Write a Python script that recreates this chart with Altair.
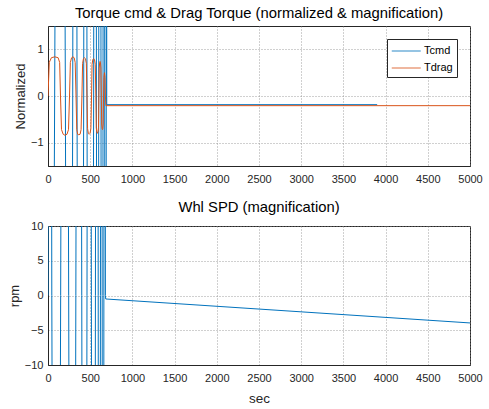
import altair as alt
import pandas as pd

# ---- data ----
tcmd_t = [0, 79, 142, 206, 250, 293, 318, 344, 383, 423, 442, 462, 500, 541, 557, 574, 587,
          601, 614, 628, 640, 652, 662, 672, 681, 690, 693, 696, 3900]
tcmd_v = [-30, 0, 30, 0, -30, 0, 30, 0, -30, 0, 30, 0, -30, 0, 30, 0, -30,
          0, 30, 0, -30, 0, 30, 0, -30, 0, 30, -0.186, -0.186]

tdrag_t = [0, 15, 40, 80, 120, 138,
           148, 160, 180, 200, 225, 243,
           255, 265, 280, 295, 310, 322,
           332, 341, 352, 365, 380, 392,
           402, 410, 420, 432, 444, 454,
           462, 469, 478, 488, 498, 508,
           516, 522, 531, 541, 551, 560,
           567, 572, 578, 585, 592, 598,
           603, 607, 612, 617, 622, 627,
           632, 636, 641, 645, 649, 654,
           658, 662, 669, 676, 680, 686, 5000]
tdrag_v = [0, 0.72, 0.82, 0.84, 0.82, 0.72,
           0, -0.72, -0.82, -0.84, -0.82, -0.72,
           0, 0.72, 0.82, 0.84, 0.82, 0.72,
           0, -0.72, -0.82, -0.83, -0.82, -0.72,
           0, 0.7, 0.8, 0.82, 0.8, 0.7,
           0, -0.7, -0.8, -0.82, -0.8, -0.7,
           0, 0.68, 0.78, 0.8, 0.78, 0.68,
           0, -0.68, -0.77, -0.8, -0.77, -0.68,
           0, 0.6, 0.71, 0.74, 0.71, 0.6,
           0, -0.6, -0.7, -0.72, -0.7, -0.6,
           0, 0.4, 0.5, 0.4, 0, -0.207, -0.207]

whl_t = [0, 22, 45, 98, 150, 198, 245, 288, 330, 365, 400, 431, 462, 488, 514, 538, 562,
         578, 595, 608, 621, 631, 642, 652, 662, 671, 680, 684, 5000]
whl_v = [0, 200, 0, -200, 0, 200, 0, -200, 0, 200, 0, -200, 0, 200, 0, -200, 0,
         200, 0, -200, 0, 200, 0, -200, 0, 200, 0, -0.5, -3.95]

x_ticks = list(range(0, 5001, 500))
top_y_ticks = [-1, 0, 1]
bot_y_ticks = [-10, -5, 0, 5, 10]

BLUE = "#0072BD"
ORANGE = "#D95319"
FONT = "Liberation Sans"
TXT = "#262626"

df_cmd = pd.DataFrame({"t": tcmd_t, "v": tcmd_v, "series": "Tcmd", "i": range(len(tcmd_t))})
df_drag = pd.DataFrame({"t": tdrag_t, "v": tdrag_v, "series": "Tdrag", "i": range(len(tdrag_t))})
df_top = pd.concat([df_cmd, df_drag], ignore_index=True)
df_whl = pd.DataFrame({"t": whl_t, "v": whl_v, "i": range(len(whl_t))})

W, H = 422, 140

xaxis = alt.Axis(values=x_ticks, title=None, labelFontSize=11, labelPadding=7, ticks=False,
                 labelFlush=False, format="d")
xaxis_b = alt.Axis(values=x_ticks, title="sec", labelFontSize=11, labelPadding=7, ticks=False,
                   titleFontSize=13.5, titlePadding=8, labelFlush=False, format="d")
xscale = alt.Scale(domain=[0, 5000], nice=False, zero=False)

color = alt.Color("series:N",
                  scale=alt.Scale(domain=["Tcmd", "Tdrag"], range=[BLUE, ORANGE]),
                  legend=alt.Legend(title=None, orient="none", legendX=339, legendY=13,
                                    fillColor="white", strokeColor=TXT, padding=4,
                                    labelFontSize=11, labelFont=FONT, labelColor="#000",
                                    symbolType="M-1,0H3", symbolStrokeWidth=1.5,
                                    symbolSize=210, rowPadding=4, labelOffset=17,
                                    symbolOpacity=0.55))

top = alt.Chart(df_top).mark_line(clip=True, strokeWidth=1).encode(
    x=alt.X("t:Q", scale=xscale, axis=xaxis),
    y=alt.Y("v:Q", scale=alt.Scale(domain=[-1.5, 1.5], nice=False),
            axis=alt.Axis(values=top_y_ticks, title="Normalized", titleFontSize=13,
                          labelFontSize=11, ticks=False, titlePadding=3, labelPadding=5,
                          format="d")),
    color=color,
    order="i:Q",
).properties(
    width=W, height=H,
    title=alt.TitleParams("Torque cmd & Drag Torque (normalized & magnification)",
                          fontSize=14.8, font=FONT, fontWeight="normal", offset=5, color="#000"),
)

bottom = alt.Chart(df_whl).mark_line(clip=True, strokeWidth=1, color=BLUE).encode(
    x=alt.X("t:Q", scale=xscale, axis=xaxis_b),
    y=alt.Y("v:Q", scale=alt.Scale(domain=[-10, 10], nice=False),
            axis=alt.Axis(values=bot_y_ticks, title="rpm", titleFontSize=13,
                          labelFontSize=11, ticks=False, titlePadding=3, labelPadding=5,
                          format="d")),
    order="i:Q",
).properties(
    width=W, height=H - 1,
    title=alt.TitleParams("Whl SPD (magnification)", fontSize=14.8, font=FONT,
                          fontWeight="normal", offset=5, color="#000"),
)

chart = alt.vconcat(top, bottom, spacing=60, bounds="flush").properties(
    padding={"left": 7, "top": 5, "right": 4, "bottom": 1},
    background="white",
).configure_axis(
    labelFont=FONT, titleFont=FONT, labelColor=TXT, titleColor=TXT,
    domainColor=TXT, grid=True, gridColor="#8a8a8a", gridDash=[1, 2],
    gridOpacity=0.8, titleFontWeight="normal",
).configure_view(
    stroke=TXT, strokeWidth=1,
)

chart.save("out.html", embed_options={"renderer": "svg", "actions": False})
